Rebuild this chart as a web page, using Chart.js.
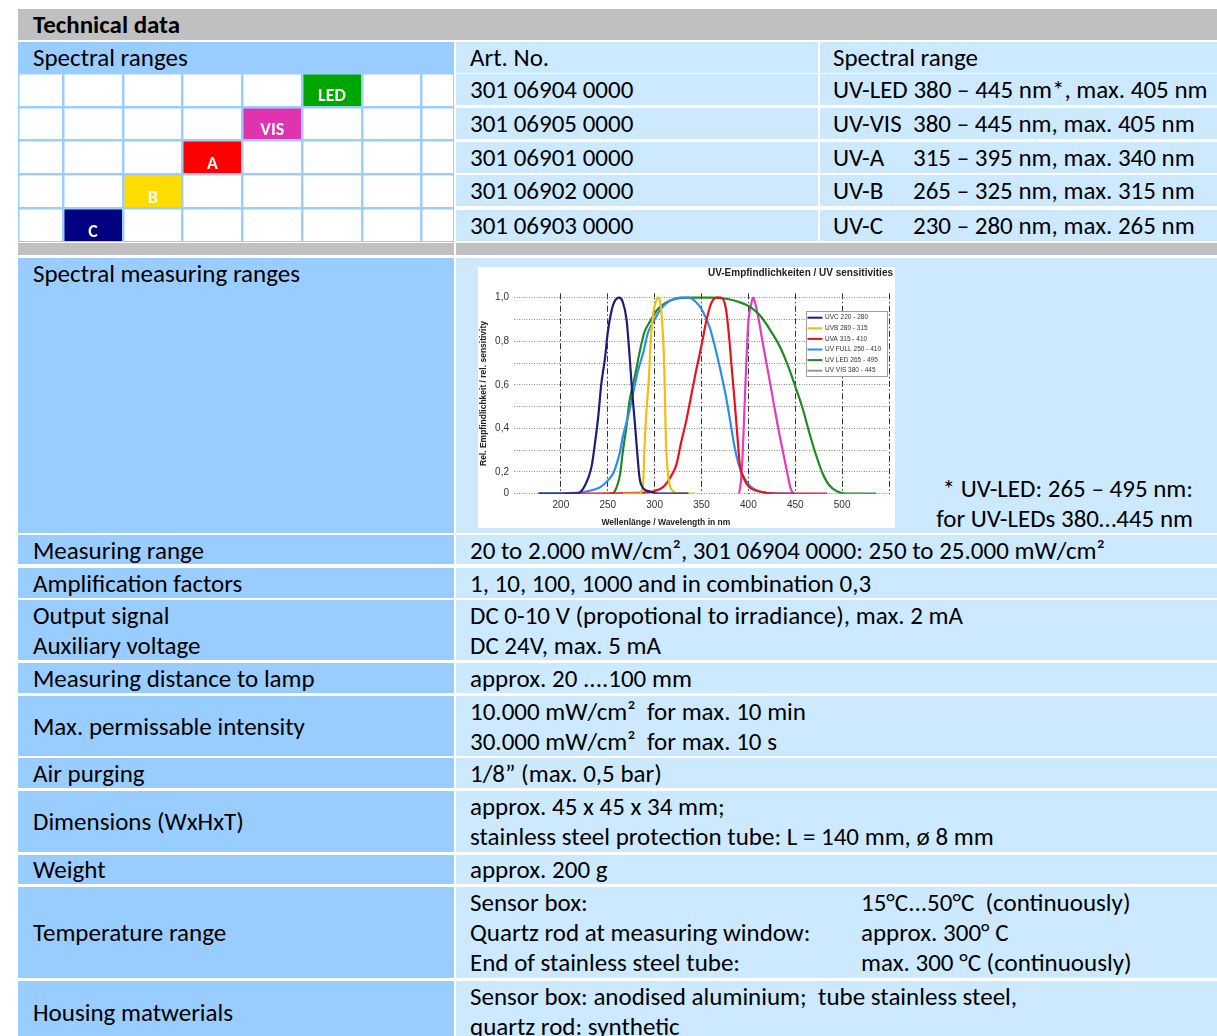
<!DOCTYPE html>
<html><head><meta charset="utf-8">
<script src="https://cdn.jsdelivr.net/npm/chart.js@4.4.0/dist/chart.umd.min.js"></script>
<style>
html,body{margin:0;padding:0;background:#fff;width:1217px;height:1036px;overflow:hidden;}
#page{position:relative;width:1217px;height:1036px;font-family:Lato,"Open Sans",sans-serif;font-size:22px;letter-spacing:0.3px;color:#000;}
#page.carlito{font-family:Carlito,Lato,sans-serif;font-size:25px;letter-spacing:0;}
#page.carlito .c{padding-top:1px;}
.c{position:absolute;box-sizing:border-box;line-height:30px;white-space:nowrap;overflow:visible;}
.d{background:#99ccff;padding-left:15px;}
.l{background:#cce9ff;padding-left:14px;}
.r{padding-left:13px;}
.g{background:#c0c0c0;}
.mid{display:flex;flex-direction:column;justify-content:center;}
.k{display:inline-block;width:80px;}
.t{display:inline-block;width:391px;}
canvas{position:absolute;background:#fff;}
</style></head>
<body><div id="page">
<div class="c g" style="left:18px;top:9px;width:1210px;height:31px;line-height:30px;padding-left:15px;font-weight:bold;">Technical data</div>

<div class="c d" style="left:18px;top:42px;width:436px;height:31px;">Spectral ranges</div>
<div class="c l" style="left:456px;top:42px;width:362px;height:31px;">Art. No.</div>
<div class="c l r" style="left:820px;top:42px;width:410px;height:31px;">Spectral range</div>

<div class="c l" style="left:456px;top:74px;width:362px;height:31px;">301 06904 0000</div>
<div class="c l r" style="left:820px;top:74px;width:410px;height:31px;">UV-LED 380 – 445 nm*, max. 405 nm</div>
<div class="c l" style="left:456px;top:108px;width:362px;height:31px;">301 06905 0000</div>
<div class="c l r" style="left:820px;top:108px;width:410px;height:31px;"><span class="k">UV-VIS</span>380 – 445 nm, max. 405 nm</div>
<div class="c l" style="left:456px;top:142px;width:362px;height:31px;">301 06901 0000</div>
<div class="c l r" style="left:820px;top:142px;width:410px;height:31px;"><span class="k">UV-A</span>315 – 395 nm, max. 340 nm</div>
<div class="c l" style="left:456px;top:175px;width:362px;height:31px;">301 06902 0000</div>
<div class="c l r" style="left:820px;top:175px;width:410px;height:31px;"><span class="k">UV-B</span>265 – 325 nm, max. 315 nm</div>
<div class="c l" style="left:456px;top:210px;width:362px;height:31px;">301 06903 0000</div>
<div class="c l r" style="left:820px;top:210px;width:410px;height:31px;"><span class="k">UV-C</span>230 – 280 nm, max. 265 nm</div>

<div class="c g" style="left:18px;top:243px;width:436px;height:12px;"></div>
<div class="c g" style="left:456px;top:243px;width:774px;height:12px;"></div>

<div class="c d" style="left:18px;top:258px;width:436px;height:275px;">Spectral measuring ranges</div>
<div class="c l" style="left:456px;top:258px;width:774px;height:275px;"></div>
<div class="c" style="left:873px;top:473px;width:320px;text-align:right;">* UV-LED: 265 – 495 nm:<br>for UV-LEDs 380…445 nm</div>

<div class="c d" style="left:18px;top:535px;width:436px;height:29px;line-height:29px;">Measuring range</div>
<div class="c l" style="left:456px;top:535px;width:774px;height:29px;line-height:29px;">20 to 2.000 mW/cm², 301 06904 0000: 250 to 25.000 mW/cm²</div>

<div class="c d" style="left:18px;top:568px;width:436px;height:30px;line-height:29px;">Amplification factors</div>
<div class="c l" style="left:456px;top:568px;width:774px;height:30px;line-height:29px;">1, 10, 100, 1000 and in combination 0,3</div>

<div class="c d" style="left:18px;top:600px;width:436px;height:60px;">Output signal<br>Auxiliary voltage</div>
<div class="c l" style="left:456px;top:600px;width:774px;height:60px;">DC 0-10 V (propotional to irradiance), max. 2 mA<br>DC 24V, max. 5 mA</div>

<div class="c d" style="left:18px;top:663px;width:436px;height:30px;line-height:29px;">Measuring distance to lamp</div>
<div class="c l" style="left:456px;top:663px;width:774px;height:30px;line-height:29px;">approx. 20 ....100 mm</div>

<div class="c d mid" style="left:18px;top:696px;width:436px;height:60px;">Max. permissable intensity</div>
<div class="c l" style="left:456px;top:696px;width:774px;height:60px;">10.000 mW/cm²&nbsp; for max. 10 min<br>30.000 mW/cm²&nbsp; for max. 10 s</div>

<div class="c d" style="left:18px;top:758px;width:436px;height:30px;line-height:29px;">Air purging</div>
<div class="c l" style="left:456px;top:758px;width:774px;height:30px;line-height:29px;">1/8” (max. 0,5 bar)</div>

<div class="c d mid" style="left:18px;top:791px;width:436px;height:61px;">Dimensions (WxHxT)</div>
<div class="c l" style="left:456px;top:791px;width:774px;height:61px;">approx. 45 x 45 x 34 mm;<br>stainless steel protection tube: L = 140 mm, ø 8 mm</div>

<div class="c d" style="left:18px;top:855px;width:436px;height:29px;line-height:28px;">Weight</div>
<div class="c l" style="left:456px;top:855px;width:774px;height:29px;line-height:28px;">approx. 200 g</div>

<div class="c d mid" style="left:18px;top:887px;width:436px;height:91px;">Temperature range</div>
<div class="c l" style="left:456px;top:887px;width:774px;height:91px;"><span class="t">Sensor box:</span>15°C...50°C&nbsp; (continuously)<br><span class="t">Quartz rod at measuring window:</span>approx. 300° C<br><span class="t">End of stainless steel tube:</span>max. 300 °C (continuously)</div>

<div class="c d mid" style="left:18px;top:981px;width:436px;height:62px;">Housing matwerials</div>
<div class="c l" style="left:456px;top:981px;width:774px;height:62px;">Sensor box: anodised aluminium;&nbsp; tube stainless steel,<br>quartz rod: synthetic</div>

<canvas id="bands" width="436" height="169" style="left:18px;top:73px;"></canvas>
<canvas id="spec" width="417" height="261" style="left:478px;top:267px;"></canvas>
</div>
<script>
// pick Carlito (Calibri metrics) when it is installed, Lato otherwise
(function () {
  const m = document.createElement('canvas').getContext('2d');
  m.font = '20px monospace'; const a = m.measureText('Measuring range 0123').width;
  m.font = '20px Carlito, monospace'; const b = m.measureText('Measuring range 0123').width;
  if (Math.abs(a - b) > 0.5) document.getElementById('page').classList.add('carlito');
})();

// ---------- Spectral ranges grid ----------
const bandLabels = ['LED', 'VIS', 'A', 'B', 'C'];
const bandStartColumn = [5, 4, 3, 2, 1];
const bandEndColumn = [6, 5, 4, 3, 2];
const bandColors = ['#00a600', '#e033b0', '#ff0000', '#ffdc00', '#000080'];
const gridColumnLines = [0.243, 1, 2, 3, 4, 5, 6, 7, 7.543];

// ---------- UV sensitivity chart ----------
const wavelengthTicks = [200, 250, 300, 350, 400, 450, 500, 550];
const wavelengthTickLabels = ['200', '250', '300', '350', '400', '450', '500', ''];
const sensitivityTicks = [0, 0.2, 0.3, 0.4, 0.5, 0.6, 0.7, 0.8, 0.9, 1.0];
const sensitivityTickLabels = ['0', '0,2', '', '0,4', '', '0,6', '', '0,8', '', '1,0'];
const seriesLabels = ['UVC 220 - 280', 'UVB 280 - 315', 'UVA 315 - 410', 'UV FULL 250 - 410', 'UV LED 265 - 495', 'UV VIS 380 - 445'];
const seriesColors = ['#1c1c7a', '#f4bc0c', '#e8121b', '#2d8cef', '#1f8a22', '#e23cba'];
const legendColors = ['#1c1c7a', '#f4bc0c', '#e8121b', '#2d8cef', '#1f8a22', '#9a9a9a'];

const uvcWl  = [176, 217, 224, 229, 233, 236, 240, 243, 247, 250, 254, 257, 262, 266, 270, 273, 276, 279, 282, 284, 288, 295, 304, 336];
const uvcRel = [0, 0, 0.05, 0.14, 0.23, 0.32, 0.46, 0.6, 0.72, 0.84, 0.94, 0.98, 1.0, 0.98, 0.9, 0.75, 0.57, 0.42, 0.26, 0.14, 0.05, 0.02, 0, 0];
const uvbWl  = [266, 284, 286, 288, 289, 291, 294, 296, 299, 302, 304, 306, 308, 310, 311, 312, 314, 316, 320, 323, 343];
const uvbRel = [0, 0, 0.02, 0.14, 0.29, 0.46, 0.64, 0.81, 0.94, 0.99, 1.0, 0.98, 0.89, 0.72, 0.54, 0.35, 0.2, 0.08, 0.02, 0, 0];
const uvaWl  = [204, 288, 298, 309, 316, 323, 328, 334, 339, 344, 350, 355, 360, 366, 371, 376, 379, 382, 385, 388, 391, 395, 401, 412, 429, 484];
const uvaRel = [0, 0.01, 0.02, 0.06, 0.14, 0.23, 0.33, 0.44, 0.55, 0.66, 0.78, 0.89, 0.97, 1.0, 1.0, 0.95, 0.84, 0.69, 0.54, 0.38, 0.23, 0.14, 0.06, 0.02, 0, 0];
const fullWl  = [176, 210, 227, 242, 250, 256, 259, 263, 266, 272, 277, 282, 288, 293, 300, 307, 316, 327, 336, 344, 351, 359, 364, 369, 375, 380, 385, 390, 396, 403, 412, 422, 449];
const fullRel = [0, 0.005, 0.02, 0.06, 0.12, 0.19, 0.23, 0.29, 0.36, 0.46, 0.56, 0.66, 0.75, 0.84, 0.9, 0.95, 0.985, 1.0, 1.0, 0.98, 0.94, 0.86, 0.78, 0.69, 0.57, 0.45, 0.32, 0.23, 0.14, 0.06, 0.02, 0.006, 0];
const ledWl  = [252, 256, 259, 263, 266, 270, 273, 279, 284, 289, 295, 302, 311, 323, 341, 359, 376, 390, 401, 412, 422, 433, 442, 451, 458, 465, 472, 479, 486, 495, 504, 536];
const ledRel = [0, 0.006, 0.05, 0.17, 0.29, 0.41, 0.52, 0.64, 0.75, 0.84, 0.89, 0.94, 0.975, 0.995, 1.0, 1.0, 0.995, 0.98, 0.96, 0.92, 0.86, 0.78, 0.69, 0.58, 0.49, 0.38, 0.28, 0.19, 0.08, 0.02, 0, 0];
const visWl  = [390, 392, 394, 396, 398, 400, 403, 405, 407, 411, 415, 421, 426, 431, 437, 442, 445, 448];
const visRel = [0, 0.11, 0.29, 0.51, 0.72, 0.89, 0.97, 1.0, 0.98, 0.9, 0.8, 0.66, 0.54, 0.42, 0.29, 0.17, 0.05, 0];

const seriesWl = [uvcWl, uvbWl, uvaWl, fullWl, ledWl, visWl];
const seriesRel = [uvcRel, uvbRel, uvaRel, fullRel, ledRel, visRel];

// ---------- bands chart ----------
const bandLabelPlugin = {
  id: 'bandLabels',
  afterDraw(chart) {
    const ctx = chart.ctx;
    const meta = chart.getDatasetMeta(0);
    ctx.save();
    ctx.font = 'bold 18px Carlito, Lato, "Open Sans", sans-serif';
    ctx.fillStyle = '#ffffff';
    ctx.textAlign = 'center';
    ctx.textBaseline = 'alphabetic';
    meta.data.forEach((bar, i) => {
      ctx.fillText(chart.data.labels[i], (bar.x + bar.base) / 2, bar.y + bar.height / 2 - 5.5);
    });
    ctx.restore();
  }
};

new Chart(document.getElementById('bands'), {
  type: 'bar',
  data: {
    labels: bandLabels,
    datasets: [{
      data: bandStartColumn.map((s, i) => [s, bandEndColumn[i]]),
      backgroundColor: bandColors,
      borderWidth: 0,
      barPercentage: 1,
      categoryPercentage: 1
    }]
  },
  options: {
    indexAxis: 'y', responsive: false, animation: false, devicePixelRatio: 1, events: [],
    layout: { padding: 0 },
    plugins: { legend: { display: false }, tooltip: { enabled: false } },
    scales: {
      x: {
        type: 'linear', min: gridColumnLines[0], max: gridColumnLines[gridColumnLines.length - 1],
        afterBuildTicks: s => { s.ticks = gridColumnLines.map(v => ({ value: v })); },
        ticks: { display: false },
        grid: { color: '#9dcdfd', lineWidth: 2.5, drawTicks: false, z: 1 },
        border: { display: false }
      },
      y: {
        ticks: { display: false },
        grid: { color: '#9dcdfd', lineWidth: 2.5, drawTicks: false, z: 1, offset: true },
        border: { display: false }
      }
    }
  },
  plugins: [bandLabelPlugin]
});

// ---------- sensitivity chart ----------
// Axis of the original: baseline "0" sits half a grid step below "0,2"; above 0,2 the axis is linear.
class SensitivityScale extends Chart.LinearScale {
  warp(v) { return v < 0.2 ? 0.1 + v / 2 : v; }
  unwarp(w) { return w < 0.2 ? (w - 0.1) * 2 : w; }
  getPixelForValue(v) { return super.getPixelForValue(v === null ? null : this.warp(v)); }
  getValueForPixel(p) { return this.unwarp(super.getValueForPixel(p)); }
}
SensitivityScale.id = 'sensitivity';
SensitivityScale.defaults = Chart.LinearScale.defaults;
Chart.register(SensitivityScale);

const boxLegend = {
  id: 'boxLegend',
  afterDraw(chart, args, o) {
    const { ctx, chartArea: a } = chart;
    const x0 = a.right - o.right - o.width, y0 = a.top + o.top;
    ctx.save();
    ctx.fillStyle = '#ffffff';
    ctx.fillRect(x0, y0, o.width, o.height);
    ctx.strokeStyle = '#a0a0a0'; ctx.lineWidth = 1;
    ctx.strokeRect(x0 + 0.5, y0 + 0.5, o.width - 1, o.height - 1);
    ctx.font = o.font; ctx.textBaseline = 'middle'; ctx.textAlign = 'left';
    chart.data.datasets.forEach((ds, i) => {
      const y = y0 + o.firstRow + i * o.rowGap;
      ctx.strokeStyle = ds.legendColor; ctx.lineWidth = 2;
      ctx.beginPath(); ctx.moveTo(x0 + o.pad, y); ctx.lineTo(x0 + o.pad + o.sample, y); ctx.stroke();
      ctx.fillStyle = '#333';
      ctx.fillText(ds.label, x0 + o.pad + o.sample + o.gap, y);
    });
    ctx.restore();
  }
};

const xAxisTitle = {
  id: 'xAxisTitle',
  afterDraw(chart, args, o) {
    const ctx = chart.ctx, s = chart.scales.x;
    ctx.save();
    ctx.font = o.font; ctx.fillStyle = o.color;
    ctx.textAlign = 'center'; ctx.textBaseline = 'middle';
    ctx.fillText(o.text, s.getPixelForValue(o.centerValue), s.bottom - o.fromBottom);
    ctx.restore();
  }
};

const narrowBold = '"Liberation Sans Narrow", "Liberation Sans", Arial, sans-serif';
const plainFont = '"Liberation Sans", Arial, sans-serif';

new Chart(document.getElementById('spec'), {
  type: 'line',
  data: {
    datasets: seriesLabels.map((label, k) => ({
      label: label,
      data: seriesWl[k].map((w, i) => ({ x: w, y: seriesRel[k][i] })),
      borderColor: seriesColors[k],
      legendColor: legendColors[k],
      borderWidth: 2.2,
      pointRadius: 0,
      fill: false,
      cubicInterpolationMode: 'monotone'
    }))
  },
  options: {
    responsive: false, animation: false, devicePixelRatio: 1, events: [],
    layout: { padding: { left: 0, right: 2, top: 0, bottom: 0 } },
    plugins: {
      legend: { display: false },
      tooltip: { enabled: false },
      title: {
        display: true, text: 'UV-Empfindlichkeiten / UV sensitivities', align: 'end', color: '#222',
        font: { family: narrowBold, size: 10, weight: 'bold' }, padding: { top: 0, bottom: 14.3 }
      },
      boxLegend: { width: 82, height: 66, right: 1, top: 17.7, firstRow: 6.7, rowGap: 10.6, pad: 1.5, sample: 15, gap: 2.5, font: '6.5px "Liberation Sans", Arial, sans-serif' },
      xAxisTitle: { text: 'Wellenlänge / Wavelength in nm', centerValue: 312, fromBottom: 5, color: '#222', font: 'bold 8.5px ' + narrowBold }
    },
    scales: {
      x: {
        type: 'linear', min: 150, max: 550,
        afterBuildTicks: s => { s.ticks = wavelengthTicks.map(v => ({ value: v })); },
        afterFit: s => { s.height = 34.3; },
        ticks: { padding: 6, autoSkip: false, maxRotation: 0, color: '#333', font: { family: plainFont, size: 10 },
                 callback: (v, i) => wavelengthTickLabels[i] },
        grid: { color: '#333', lineWidth: 1, drawTicks: false },
        border: { display: false, dash: [6, 2.5, 1.5, 2.5] }
      },
      y: {
        type: 'sensitivity', min: 0.1, max: 1.02,
        afterBuildTicks: s => { s.ticks = sensitivityTicks.map(v => ({ value: v })); },
        afterFit: s => { s.width = 36; },
        ticks: { padding: 5, autoSkip: false, color: '#333', font: { family: plainFont, size: 10 },
                 callback: (v, i) => sensitivityTickLabels[i] },
        grid: { color: '#8a8a8a', lineWidth: 1, drawTicks: false },
        border: { display: false, dash: [1, 1.5] },
        title: { display: true, text: 'Rel. Empfindlichkeit / rel. sensitivity', color: '#222',
                 font: { family: narrowBold, size: 8.5, weight: 'bold' }, padding: { top: 1, bottom: 0 } }
      }
    }
  },
  plugins: [boxLegend, xAxisTitle]
});
</script>
</body></html>
